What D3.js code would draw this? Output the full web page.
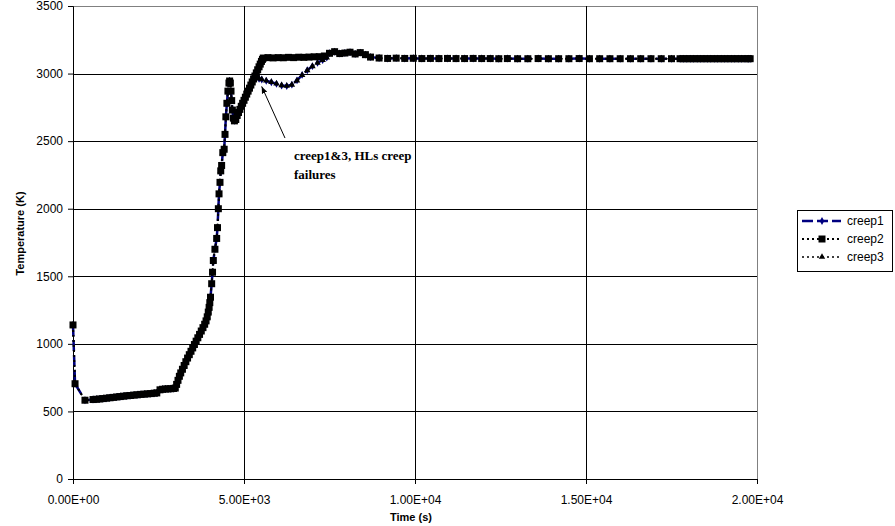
<!DOCTYPE html>
<html>
<head>
<meta charset="utf-8">
<script src="https://cdn.jsdelivr.net/npm/d3@7"></script>
<style>
body { margin: 0; background: #fff; }
</style>
</head>
<body>
<div id="chart"></div>
<script>
// time in s, temperature in K
var time = [
  0, 60, 350, 585, 680, 780, 880, 980, 1080, 1180,
  1280, 1380, 1480, 1580, 1680, 1780, 1880, 1980, 2080, 2180,
  2280, 2380, 2450, 2544, 2620, 2700, 2780, 2860, 2940, 2990,
  3030, 3070, 3110, 3150, 3200, 3250, 3300, 3350, 3400, 3450,
  3500, 3550, 3600, 3650, 3700, 3750, 3800, 3850, 3890, 3925,
  3955, 3980, 4000, 4020, 4055, 4080, 4103, 4150, 4201, 4225,
  4250, 4270, 4298, 4320, 4346, 4380, 4420, 4445, 4470, 4500,
  4530, 4560, 4580, 4600, 4620, 4640, 4660, 4690, 4720, 4760,
  4800, 4840, 4880, 4920, 4960, 5000, 5040, 5080, 5120, 5160,
  5200, 5240, 5280, 5320, 5360, 5400, 5440, 5475, 5510, 5540,
  5565, 5700, 5850, 6000, 6150, 6300, 6450, 6600, 6750, 6900,
  7050, 7200, 7350, 7500, 7650, 7800, 7950, 8100, 8250, 8400,
  8550, 8700, 8950, 9200, 9450, 9700, 9950, 10200, 10450, 10700,
  10950, 11200, 11450, 11700, 11950, 12200, 12450, 12700, 13000, 13300,
  13600, 13900, 14200, 14500, 14800, 15100, 15400, 15700, 16000, 16300,
  16600, 16900, 17200, 17500, 17750, 17850, 17950, 18050, 18150, 18250,
  18350, 18450, 18550, 18650, 18750, 18850, 18950, 19050, 19150, 19250,
  19350, 19450, 19550, 19650, 19750, 19800
];

var creep2 = [
  1140, 705, 583, 588, 590, 592, 595, 598, 601, 604,
  607, 610, 613, 616, 618, 621, 623, 626, 628, 630,
  632, 635, 637, 660, 664, 666, 667, 668, 670, 673,
  700, 730, 760, 785, 812, 840, 868, 895, 920, 945,
  970, 995, 1020, 1045, 1070, 1095, 1120, 1145, 1170, 1200,
  1235, 1270, 1305, 1345, 1445, 1530, 1617, 1700, 1780, 1860,
  2000, 2110, 2195, 2280, 2320, 2415, 2440, 2550, 2680, 2780,
  2870, 2930, 2945, 2930, 2870, 2800, 2730, 2670, 2650, 2660,
  2690, 2712, 2735, 2758, 2780, 2802, 2825, 2848, 2870, 2892,
  2915, 2938, 2960, 2982, 3005, 3028, 3050, 3070, 3090, 3105,
  3115, 3118, 3116, 3118, 3117, 3120, 3118, 3121, 3120, 3122,
  3124, 3125, 3130, 3150, 3162, 3148, 3152, 3158, 3145, 3155,
  3140, 3122, 3115, 3112, 3114, 3112, 3113, 3111, 3112, 3111,
  3112, 3111, 3111, 3112, 3111, 3111, 3110, 3111, 3110, 3110,
  3111, 3110, 3110, 3110, 3111, 3110, 3110, 3110, 3110, 3110,
  3110, 3110, 3110, 3110, 3110, 3110, 3110, 3110, 3110, 3110,
  3110, 3110, 3110, 3110, 3110, 3110, 3110, 3110, 3110, 3110,
  3110, 3110, 3110, 3110, 3110, 3110
];

// creep1 and creep3 leave creep2 after the HL creep failures
var failTime = [5360, 5440, 5520, 5650, 5800, 5950, 6100, 6250, 6400, 6550, 6700, 6850, 7000, 7150, 7300, 7420];
var creep1Fail = [2968, 2962, 2956, 2947, 2936, 2924, 2912, 2908, 2918, 2950, 2990, 3025, 3055, 3080, 3100, 3118];
var creep3Fail = [2970, 2963, 2957, 2948, 2937, 2925, 2913, 2909, 2917, 2948, 2988, 3023, 3054, 3079, 3100, 3118];

var xTicks = [0, 5000, 10000, 15000, 20000];
var xTickLabels = ["0.00E+00", "5.00E+03", "1.00E+04", "1.50E+04", "2.00E+04"];
var yTicks = [0, 500, 1000, 1500, 2000, 2500, 3000, 3500];
var seriesNames = ["creep1", "creep2", "creep3"];

var sans = "'Liberation Sans', Arial, sans-serif";

var margin = {top: 6, right: 138, bottom: 47, left: 73},
	width = 895 - margin.left - margin.right,
	height = 526 - margin.top - margin.bottom;

var x = d3.scaleLinear().domain([0, 20000]).range([0, width]),
	y = d3.scaleLinear().domain([0, 3500]).range([height, 0]);

function pts(ts, vs) {
	return ts.map(function(t, i) { return {time: t, temp: vs[i]}; });
}
var base = pts(time, creep2);
function withFail(fv) {
	return base.filter(function(d) { return d.time <= 5280; })
		.concat(pts(failTime, fv))
		.concat(base.filter(function(d) { return d.time >= 7500; }));
}
var data = {creep1: withFail(creep1Fail), creep2: base, creep3: withFail(creep3Fail)};

var style = {
	creep1: {stroke: "#000080", width: 2.5, dash: "11,4", sym: d3.symbolDiamond, size: 18, fill: "#000080"},
	creep2: {stroke: "#000", width: 2, dash: "2,3", sym: d3.symbolSquare, size: 49, fill: "#000"},
	creep3: {stroke: "#000", width: 1.5, dash: "2,3", sym: d3.symbolTriangle, size: 18, fill: "#000"}
};

var svg = d3.select("#chart")
	.append("svg")
	.attr("width", 895)
	.attr("height", 526)
	.style("font-family", sans)
	.append("g")
	.attr("transform", "translate(" + margin.left + "," + margin.top + ")");

// plot area border
svg.append("rect")
	.attr("x", 0).attr("y", 0)
	.attr("width", width).attr("height", height)
	.attr("fill", "none")
	.attr("stroke", "#808080")
	.attr("shape-rendering", "crispEdges");

// gridlines
svg.append("g").selectAll("line")
	.data(yTicks.slice(1, -1))
	.enter().append("line")
	.attr("x1", 0).attr("x2", width)
	.attr("y1", function(d) { return Math.round(y(d)) + 0.5; })
	.attr("y2", function(d) { return Math.round(y(d)) + 0.5; })
	.attr("stroke", "#000");

svg.append("g").selectAll("line")
	.data(xTicks.slice(1, -1))
	.enter().append("line")
	.attr("y1", 0).attr("y2", height)
	.attr("x1", function(d) { return Math.round(x(d)) + 0.5; })
	.attr("x2", function(d) { return Math.round(x(d)) + 0.5; })
	.attr("stroke", "#000");

// axes
var gx = svg.append("g")
	.attr("transform", "translate(0," + height + ")")
	.call(d3.axisBottom(x).tickValues(xTicks).tickSize(5).tickPadding(11)
		.tickFormat(function(d, i) { return xTickLabels[i]; }));
var gy = svg.append("g")
	.call(d3.axisLeft(y).tickValues(yTicks).tickSize(5).tickPadding(5)
		.tickFormat(d3.format("d")));
[gx, gy].forEach(function(g) {
	g.attr("font-family", null).attr("font-size", null);
	g.selectAll("text").style("font-size", "12px").attr("fill", "#000");
	g.selectAll("line, path").attr("stroke", "#000");
});

// series
seriesNames.forEach(function(name) {
	var s = style[name];
	var line = d3.line()
		.x(function(d) { return x(d.time); })
		.y(function(d) { return y(d.temp); });
	svg.append("path")
		.datum(data[name])
		.attr("fill", "none")
		.attr("stroke", s.stroke)
		.attr("stroke-width", s.width)
		.attr("stroke-dasharray", s.dash)
		.attr("d", line);
	svg.append("g").selectAll("path")
		.data(data[name])
		.enter().append("path")
		.attr("transform", function(d) { return "translate(" + x(d.time) + "," + y(d.temp) + ")"; })
		.attr("d", d3.symbol().type(s.sym).size(s.size))
		.attr("fill", s.fill);
});

// annotation
var annTip = {time: 5517, temp: 2905},
	annTail = {time: 6199, temp: 2523},
	annText = {time: 6462, temp: 2363};

svg.append("defs").append("marker")
	.attr("id", "arrow")
	.attr("viewBox", "0 0 10 10")
	.attr("refX", 10).attr("refY", 5)
	.attr("markerWidth", 7).attr("markerHeight", 7)
	.attr("orient", "auto")
	.append("path")
	.attr("d", "M0,1L10,5L0,9Z")
	.attr("fill", "#000");

svg.append("line")
	.attr("x1", x(annTail.time)).attr("y1", y(annTail.temp))
	.attr("x2", x(annTip.time)).attr("y2", y(annTip.temp))
	.attr("stroke", "#000")
	.attr("stroke-width", 1)
	.attr("marker-end", "url(#arrow)");

var ann = svg.append("text")
	.attr("x", x(annText.time))
	.attr("y", y(annText.temp))
	.style("font-family", "'Liberation Serif', 'Times New Roman', serif")
	.style("font-weight", "bold")
	.style("font-size", "13px")
	.attr("fill", "#000");
ann.append("tspan").text("creep1&3, HLs creep");
ann.append("tspan").attr("x", x(annText.time)).attr("dy", 19).text("failures");

// axis titles
svg.append("text")
	.attr("x", width / 2 - 4)
	.attr("y", height + 42)
	.attr("text-anchor", "middle")
	.style("font-size", "11px")
	.style("font-weight", "bold")
	.text("Time (s)");

svg.append("text")
	.attr("transform", "translate(" + (-49) + "," + (height / 2 - 9) + ") rotate(-90)")
	.attr("text-anchor", "middle")
	.style("font-size", "11px")
	.style("font-weight", "bold")
	.text("Temperature (K)");

// legend
var legend = svg.append("g")
	.attr("transform", "translate(" + (width + 40) + "," + 204 + ")");
legend.append("rect")
	.attr("x", 0.5).attr("y", 0.5)
	.attr("width", 95).attr("height", 61)
	.attr("fill", "#fff")
	.attr("stroke", "#000");
seriesNames.forEach(function(name, i) {
	var s = style[name];
	var row = legend.append("g").attr("transform", "translate(0," + (11 + i * 18) + ")");
	row.append("line")
		.attr("x1", 5).attr("x2", 44)
		.attr("stroke", s.stroke)
		.attr("stroke-width", s.width)
		.attr("stroke-dasharray", s.dash);
	row.append("path")
		.attr("transform", "translate(25,0)")
		.attr("d", d3.symbol().type(s.sym).size(s.size))
		.attr("fill", s.fill);
	row.append("text")
		.attr("x", 50)
		.attr("dy", "0.35em")
		.style("font-size", "12px")
		.text(name);
});
</script>
</body>
</html>
